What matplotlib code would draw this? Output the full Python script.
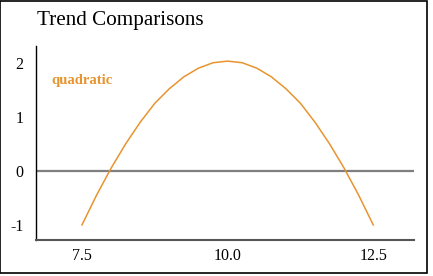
import matplotlib
matplotlib.use("Agg")
import matplotlib.pyplot as plt
from matplotlib.patches import Rectangle

# data
x_vals = [7.5, 7.75, 8.0, 8.25, 8.5, 8.75, 9.0, 9.25, 9.5, 9.75, 10.0,
          10.25, 10.5, 10.75, 11.0, 11.25, 11.5, 11.75, 12.0, 12.25, 12.5]
quadratic = [-1.0, -0.45, 0.05, 0.5, 0.9, 1.25, 1.52, 1.74, 1.9, 2.0, 2.03,
             2.0, 1.9, 1.74, 1.52, 1.25, 0.9, 0.5, 0.05, -0.45, -1.0]
x_ticks = [7.5, 10.0, 12.5]
y_ticks = [-1, 0, 1, 2]
series_name = "quadratic"
title = "Trend Comparisons"

orange = "#e8942e"
serif = ["Liberation Serif", "DejaVu Serif"]
plt.rcParams["axes.unicode_minus"] = False

fig = plt.figure(figsize=(4.33, 2.76), dpi=100)
ax = fig.add_axes([0.0831, 0.1304, 0.873, 0.703])

ax.plot(x_vals, quadratic, color=orange, lw=1.1)
ax.axhline(0, color="#7f7f7f", lw=1.6, zorder=1)

ax.set_xlim(6.71, 13.2)
ax.set_ylim(-1.28, 2.31)
ax.set_xticks(x_ticks)
ax.set_xticklabels(["7.5", "10.0", "12.5"])
ax.set_yticks(y_ticks)
ax.tick_params(length=0, labelsize=11.5)
ax.tick_params(axis="y", pad=9)
ax.tick_params(axis="x", pad=6)
for lab in ax.get_xticklabels() + ax.get_yticklabels():
    lab.set_family(serif)

for s in ["top", "right"]:
    ax.spines[s].set_visible(False)
ax.spines["left"].set_color("black")
ax.spines["left"].set_linewidth(1.0)
ax.spines["bottom"].set_color("#555555")
ax.spines["bottom"].set_linewidth(1.5)

ax.text(0.04, 0.82, series_name, transform=ax.transAxes, color=orange,
        fontsize=10.5, fontweight="bold", family=serif, va="center")

fig.text(0.085, 0.925, title, fontsize=15.2, family=serif, va="center")

fig.patches.append(Rectangle((0.001, 0.012), 0.985, 0.986, transform=fig.transFigure,
                             fill=False, edgecolor="black", lw=1.2))

fig.savefig("out.png", dpi=100)
